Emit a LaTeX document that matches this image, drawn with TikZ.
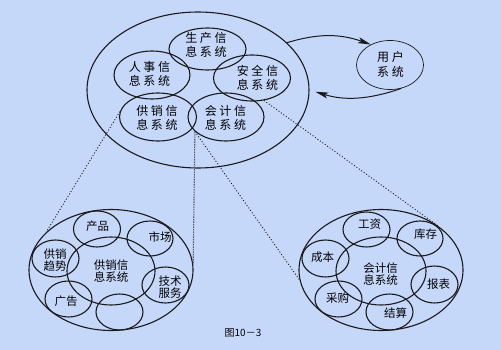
\documentclass[tikz,border=0pt]{standalone}
\usepackage{fontspec}
\setmainfont{Noto Sans CJK SC}
\usetikzlibrary{shapes.geometric,arrows.meta}
\definecolor{bgc}{RGB}{198,216,250}
\definecolor{linec}{RGB}{26,26,26}
\newcommand\myg{\kern2.6pt}
\begin{document}
\begin{tikzpicture}[x=1pt,y=-1pt,
  ell/.style 2 args={draw=linec, line width=1.1pt, ellipse, inner sep=0pt,
     minimum width=#1pt, minimum height=#2pt},
  bigtxt/.style={font=\fontsize{12}{14}\selectfont, align=center, inner sep=0pt, text=black},
  smtxt/.style={font=\fontsize{11.5}{12.5}\selectfont, align=center, inner sep=0pt, text=black},
  dotl/.style={draw=linec, line width=0.9pt, dash pattern=on 1pt off 2pt},
  dotg/.style={draw=gray!70!black, line width=1.1pt, dash pattern=on 1.5pt off 1pt},
  arr/.style={draw=linec, line width=1pt, -{Stealth[length=13pt,width=6pt,inset=3pt]}}
]
\path[fill=bgc] (0,0) rectangle (501,350);
\useasboundingbox (0,0) rectangle (501,350);

% main system
\node[ell={222}{156}] (big) at (198,90) {};
\node[ell={77}{42}] (sc) at (207.5,49) {};
\node[ell={76}{48}] (rs) at (152,75) {};
\node[ell={77}{46}] (aq) at (252,78) {};
\node[ell={77}{48}] (gx) at (158,117) {};
\node[ell={76}{48}] (kj) at (226,117) {};
\node[bigtxt] (tsc) at (206,44.5) {生\myg 产\myg 信\\息\myg 系\myg 统};
\node[bigtxt] (trs) at (149.5,73.5) {人\myg 事\myg 信\\息\myg 系\myg 统};
\node[bigtxt] (taq) at (257.5,77.5) {安\myg 全\myg 信\\息\myg 系\myg 统};
\node[bigtxt] (tgx) at (157,117.5) {供\myg 销\myg 信\\息\myg 系\myg 统};
\node[bigtxt] (tkj) at (225.5,117.5) {会\myg 计\myg 信\\息\myg 系\myg 统};

% user system
\node[draw=linec, line width=0.7pt, ellipse, inner sep=0pt, minimum width=67pt, minimum height=49pt] (user) at (390,65) {};
\node[bigtxt, font=\fontsize{12}{15}\selectfont] (tuser) at (390.5,64.5) {用\myg 户\\系\myg 统};

\draw[arr] (big.28) to[bend left=18] (user.133);
\draw[arr, shorten >=6pt] (user.-64) to[bend left=18] (big.0);

% left cluster
\node[ell={164}{121}] (lo) at (111,270) {};
\node[ell={88}{68}] (lc) at (111,271) {};
\node[ell={47}{36}] (cp) at (97,229) {};
\node[ell={46}{35}] (sch) at (150,238.5) {};
\node[ell={47}{37}] (qs) at (55.5,258.5) {};
\node[ell={47}{36}] (js) at (165.5,285) {};
\node[ell={47}{36}] (gg) at (68.5,299) {};
\node[ell={47}{36}] (em) at (119.5,312) {};
\node[smtxt] (tlc) at (111,271) {供销信\\息系统};
\node[smtxt] (tcp) at (97.5,226) {产品};
\node[smtxt] (tsch) at (160,237) {市场};
\node[smtxt] (tqs) at (55,260) {供销\\趋势};
\node[smtxt] (tjs) at (170,287) {技术\\服务};
\node[smtxt] (tgg) at (66,301) {广告};

% right cluster
\node[ell={164}{121}] (ro) at (381,270) {};
\node[ell={90}{68}] (rc) at (381,271) {};
\node[ell={47}{35}] (gz) at (366.5,229.5) {};
\node[ell={46}{35}] (kc) at (420,238.5) {};
\node[ell={47}{37}] (cb) at (325.5,258.5) {};
\node[ell={47}{37}] (bb) at (434.5,284.5) {};
\node[ell={47}{36}] (cg) at (338.5,299) {};
\node[ell={47}{36}] (js2) at (389.5,312) {};
\node[smtxt] (trc) at (380.5,274) {会计信\\息系统};
\node[smtxt] (tgz) at (369.5,224) {工资};
\node[smtxt] (tkc) at (425.5,234) {库存};
\node[smtxt] (tcb) at (322.5,257) {成本};
\node[smtxt] (tbb) at (438.5,284.5) {报表};
\node[smtxt] (tcg) at (337.5,298.5) {采购};
\node[smtxt] (tjs2) at (395.5,313.5) {结算};

% dotted connectors
\draw[dotl] (gx.172) -- (lo.150);
\draw[dotg] (kj.205) -- (lo.4);
\draw[dotl] (kj.205) -- (ro.187);
\draw[dotl] (aq.-62) -- (ro.38);

% caption
\node[font=\fontsize{10}{12}\selectfont, inner sep=0pt] (cap) at (243,333) {图10－3};
\end{tikzpicture}
\end{document}
